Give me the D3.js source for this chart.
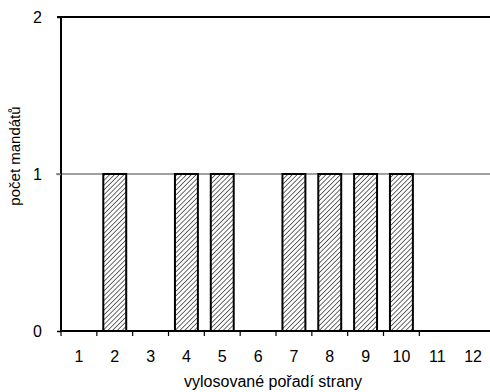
<!DOCTYPE html>
<html><head><meta charset="utf-8">
<script src="https://cdn.jsdelivr.net/npm/d3@7"></script>
<style>body{margin:0;background:#fff}svg{display:block}text{font-family:"Liberation Sans",Arial,sans-serif}</style>
</head><body>
<script>
const categories = ["1","2","3","4","5","6","7","8","9","10","11","12"];
const values = [0,1,0,1,1,0,1,1,1,1,0,0];
const yTicks = [0,1,2];

const W=490,H=392;
const m={left:61,right:-1,top:17,bottom:61};
const svg=d3.select("body").append("svg").attr("width",W).attr("height",H);
const defs=svg.append("defs");
const pat=defs.append("pattern").attr("id","hatch").attr("patternUnits","userSpaceOnUse")
  .attr("width",3.4).attr("height",3.4).attr("patternTransform","rotate(45)");
pat.append("rect").attr("width",3.4).attr("height",3.4).attr("fill","#fff");
pat.append("line").attr("x1",0).attr("y1",0).attr("x2",0).attr("y2",3.4).attr("stroke","#444").attr("stroke-width",1.6);

const x=d3.scaleBand().domain(categories).range([m.left,W-m.right]).paddingInner(0.36).paddingOuter(0.18);
const y=d3.scaleLinear().domain([0,2]).range([H-m.bottom,m.top]);

// gridline at 1
svg.append("g").selectAll("line").data(yTicks.filter(d=>d>0&&d<2)).join("line")
  .attr("x1",m.left-5).attr("x2",W).attr("y1",d=>y(d)).attr("y2",d=>y(d))
  .attr("stroke","#808080").attr("stroke-width",1.5);

// bars
svg.append("g").selectAll("rect").data(values.map((v,i)=>({c:categories[i],v})).filter(d=>d.v>0)).join("rect")
  .attr("x",d=>x(d.c)).attr("width",x.bandwidth())
  .attr("y",d=>y(d.v)).attr("height",d=>y(0)-y(d.v))
  .attr("fill","url(#hatch)").attr("stroke","#000").attr("stroke-width",2);

// top border
svg.append("line").attr("x1",m.left-4).attr("x2",W).attr("y1",y(2)).attr("y2",y(2)).attr("stroke","#000").attr("stroke-width",2);

// y axis
const ya=svg.append("g").attr("transform",`translate(${m.left},0)`)
  .call(d3.axisLeft(y).tickValues(yTicks).tickFormat(d3.format("d")).tickSize(4).tickPadding(15));
ya.select(".domain").attr("stroke","#000").attr("stroke-width",2).attr("d",`M0,${y(2)}V${y(0)}`);
ya.selectAll(".tick line").attr("stroke",d=>d===1?"#808080":"#000").attr("stroke-width",1.5);
ya.selectAll("text").attr("font-size",16).attr("fill","#000").attr("font-family","Liberation Sans, Arial, sans-serif");

// x axis
const step=x.step();
const xa=svg.append("g").attr("transform",`translate(0,${y(0)})`);
xa.append("line").attr("x1",m.left).attr("x2",W).attr("y1",0).attr("y2",0).attr("stroke","#000").attr("stroke-width",2);
xa.selectAll(".tk").data(categories.slice(0,11)).join("line").attr("class","tk")
  .attr("x1",(d,i)=>m.left+i*step).attr("x2",(d,i)=>m.left+i*step).attr("y1",0).attr("y2",5)
  .attr("stroke","#000").attr("stroke-width",1.2);
xa.selectAll("text").data(categories).join("text")
  .attr("x",d=>x(d)+x.bandwidth()/2).attr("y",31).attr("text-anchor","middle")
  .attr("font-size",16).text(d=>d);

svg.append("text").attr("x",273).attr("y",387).attr("text-anchor","middle").attr("font-size",16).text("vylosované pořadí strany");
svg.append("text").attr("transform","translate(20,156) rotate(-90)").attr("text-anchor","middle").attr("font-size",15).text("počet mandátů");
</script>
</body></html>
